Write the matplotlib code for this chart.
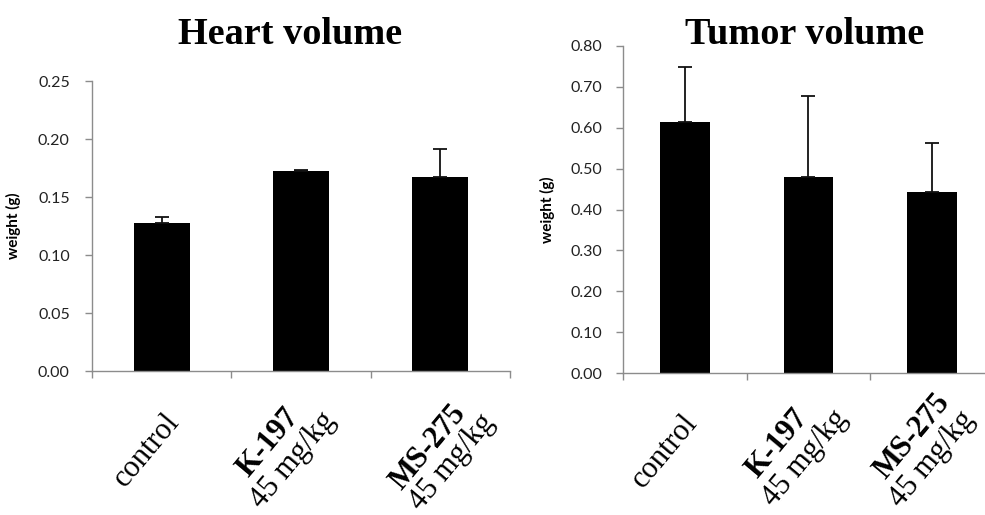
import numpy as np
import matplotlib
matplotlib.use('Agg')
import matplotlib.pyplot as plt

# data
categories = ['control', 'K-197', 'MS-275']
doses = ['', '45 mg/kg', '45 mg/kg']
heart_mean = [0.128, 0.172, 0.167]
heart_err = [0.005, 0.001, 0.024]
tumor_mean = [0.614, 0.480, 0.442]
tumor_err = [0.134, 0.197, 0.120]
heart_ticks = [0.00, 0.05, 0.10, 0.15, 0.20, 0.25]
tumor_ticks = [0.00, 0.10, 0.20, 0.30, 0.40, 0.50, 0.60, 0.70, 0.80]

spine_col = '#8c8c8c'

fig = plt.figure(figsize=(9.85, 5.15), dpi=100)
ax1 = fig.add_axes([0.0934, 0.2796, 0.4244, 0.5631])
ax2 = fig.add_axes([0.6325, 0.2751, 0.3766, 0.6362])

#label offsets in pixels from (bar center, axis bottom): name line, dose line
name_off = {
    ax1: [(-15, -79), (-33, -72), (-12, -76)],
    ax2: [(-20, -78), (-31, -70), (-20, -63)],
}
dose_off = {
    ax1: [None, (-8, -89), (12, -91)],
    ax2: [None, (-3, -85), (0, -86)],
}

def draw_panel(ax, means, errs, ticks, fmt, ypad, lpad):
    x = np.arange(len(categories))
    ax.bar(x, means, width=0.4, color='black', zorder=2)
    ax.errorbar(x, means, yerr=[np.zeros(len(errs)), errs], fmt='none',
                ecolor='#111111', elinewidth=1.3, capsize=5, capthick=1.3, zorder=3)
    ax.set_xlim(-0.5, 2.5)
    ax.set_ylim(ticks[0], ticks[-1])
    ax.set_yticks(ticks)
    ax.set_yticklabels([fmt.format(t) for t in ticks], family='Lato', fontsize=11.5, color='#222222')
    ax.set_xticks(np.arange(-0.5, 2.6, 1.0))
    ax.set_xticklabels([])
    for s in ['top', 'right']:
        ax.spines[s].set_visible(False)
    for s in ['left', 'bottom']:
        ax.spines[s].set_color(spine_col)
        ax.spines[s].set_linewidth(1.0)
    ax.tick_params(axis='both', direction='out', length=5, color=spine_col, width=1.0)
    ax.tick_params(axis='y', pad=ypad)
    ax.set_ylabel('weight (g)', family='Lato', fontweight='bold', fontsize=11, labelpad=lpad)

    for i, name in enumerate(categories):
        bold = 'bold' if doses[i] else 'normal'
        ax.annotate(name, xy=(i, 0), xycoords=('data', 'axes fraction'),
                    xytext=name_off[ax][i], textcoords='offset pixels',
                    rotation=50, ha='center', va='center', rotation_mode='anchor',
                    family='Liberation Serif', fontsize=22, fontweight=bold,
                    annotation_clip=False)
        if doses[i]:
            ax.annotate(doses[i], xy=(i, 0), xycoords=('data', 'axes fraction'),
                        xytext=dose_off[ax][i], textcoords='offset pixels',
                        rotation=50, ha='center', va='center', rotation_mode='anchor',
                        family='Liberation Serif', fontsize=22,
                        annotation_clip=False)

draw_panel(ax1, heart_mean, heart_err, heart_ticks, '{:.2f}', 11, 12)
draw_panel(ax2, tumor_mean, tumor_err, tumor_ticks, '{:.2f}', 10, 11)

fig.text(290 / 985, 1 - 34 / 515, 'Heart volume', ha='center', va='center',
         family='Liberation Serif', fontweight='bold', fontsize=27.5)
fig.text(805 / 985, 1 - 34 / 515, 'Tumor volume', ha='center', va='center',
         family='Liberation Serif', fontweight='bold', fontsize=27.5)

fig.savefig('out.png', dpi=100)
